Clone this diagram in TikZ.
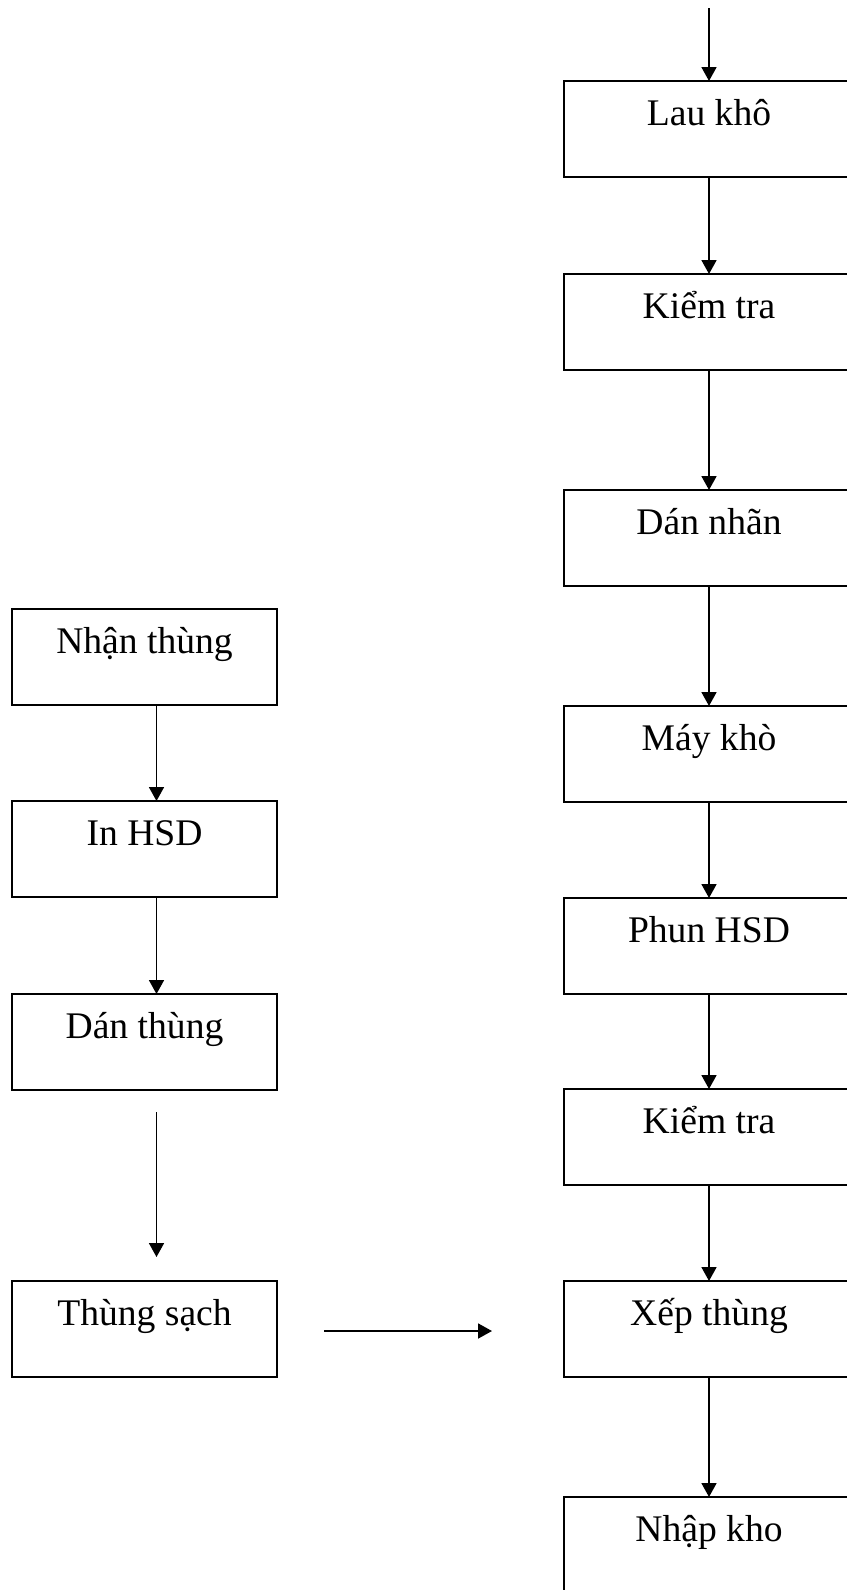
\documentclass[tikz,border=0pt]{standalone}
\usepackage{fontspec}
\setmainfont{Liberation Serif}
\usepackage{tikz}
\usetikzlibrary{positioning, arrows.meta}
\tikzstyle{process} = [rectangle, minimum width=145pt, text height=22pt, text depth=26pt, inner ysep=0pt, outer sep=0pt, text centered, draw=black, line width=0.8pt, font=\fontsize{18.8}{22}\selectfont]
\tikzstyle{leftprocess} = [process, minimum width=132.5pt]
\tikzstyle{arrow} = [line width=0.9pt, -{Triangle[width=7.5pt,length=7pt]}]

\begin{document}
\begin{tikzpicture}
        \useasboundingbox (0,0) rectangle (423pt,-795pt);

        % Right column
        \node (laukho) [process, anchor=north] at (354.5pt,-40.5pt) {Lau khô};
        \node (kiemtra1) [process, below=48.5pt of laukho] {Kiểm tra};
        \node (dannhan) [process, below=60pt of kiemtra1] {Dán nhãn};
        \node (maykho) [process, below=60pt of dannhan] {Máy khò};
        \node (phunhsd) [process, below=48pt of maykho] {Phun HSD};
        \node (kiemtra2) [process, below=47.5pt of phunhsd] {Kiểm tra};
        \node (xepthung) [process, below=48pt of kiemtra2] {Xếp thùng};
        \node (nhapkho) [process, below=60pt of xepthung] {Nhập kho};

        % Left column
        \node (nhanthung) [leftprocess, anchor=north] at (72.25pt,-304.5pt) {Nhận thùng};
        \node (inhsd) [leftprocess, below=48pt of nhanthung] {In HSD};
        \node (danthung) [leftprocess, below=48.5pt of inhsd] {Dán thùng};
        \node (thungsach) [leftprocess, below=95.5pt of danthung] {Thùng sạch};

        % Free ends
        \coordinate (start) at ([yshift=36.5pt]laukho.north);
        \coordinate (gapTop) at ([xshift=6pt,yshift=-11pt]danthung.south);
        \coordinate (gapEnd) at ([xshift=6pt,yshift=12pt]thungsach.north);
        \coordinate (joinA) at ([xshift=23.5pt,yshift=-1pt]thungsach.east);
        \path (joinA -| xepthung.west) ++(-36pt,0) coordinate (joinB);

        % Arrows
        \draw [arrow] (start) -- (laukho);
        \draw [arrow] (laukho) -- (kiemtra1);
        \draw [arrow] (kiemtra1) -- (dannhan);
        \draw [arrow] (dannhan) -- (maykho);
        \draw [arrow] (maykho) -- (phunhsd);
        \draw [arrow] (phunhsd) -- (kiemtra2);
        \draw [arrow] (kiemtra2) -- (xepthung);
        \draw [arrow] (xepthung) -- (nhapkho);

        \draw [arrow] ([xshift=6pt]nhanthung.south) -- ([xshift=6pt]inhsd.north);
        \draw [arrow] ([xshift=6pt]inhsd.south) -- ([xshift=6pt]danthung.north);
        \draw [arrow] (gapTop) -- (gapEnd);
        \draw [arrow] (joinA) -- (joinB);

    \end{tikzpicture}
\end{document}
